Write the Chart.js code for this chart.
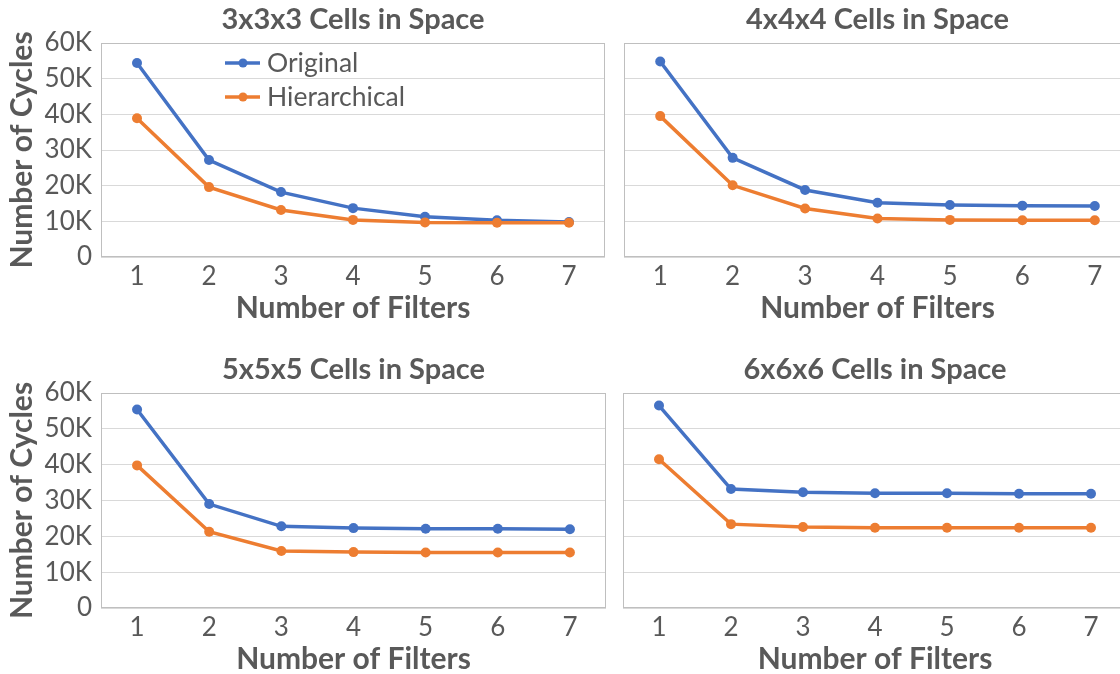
<!DOCTYPE html>
<html>
<head>
<meta charset="utf-8">
<script src="https://cdn.jsdelivr.net/npm/chart.js@4.4.0/dist/chart.umd.min.js"></script>
<style>
  html, body { margin: 0; padding: 0; background: #fff; overflow: hidden; }
  body { width: 1120px; height: 674px; position: relative; }
  canvas { position: absolute; }
</style>
</head>
<body>
<canvas id="c333" width="615" height="337" style="left:0;top:0"></canvas>
<canvas id="c444" width="527" height="337" style="left:614px;top:0"></canvas>
<canvas id="c555" width="616" height="338" style="left:0;top:350px"></canvas>
<canvas id="c666" width="524" height="338" style="left:613px;top:350px"></canvas>
<script>
const filters = ['1', '2', '3', '4', '5', '6', '7'];
const yTickLabels = ['0', '10K', '20K', '30K', '40K', '50K', '60K'];

// cycles
const original333 = [54400, 27200, 18200, 13700, 11300, 10300, 9800];
const hierarchical333 = [38900, 19600, 13200, 10400, 9700, 9600, 9600];
const original444 = [54800, 27800, 18800, 15200, 14600, 14400, 14300];
const hierarchical444 = [39500, 20100, 13600, 10800, 10400, 10300, 10300];
const original555 = [55400, 29000, 22800, 22300, 22100, 22100, 22000];
const hierarchical555 = [39800, 21300, 15900, 15600, 15500, 15500, 15500];
const original666 = [56500, 33200, 32300, 32000, 32000, 31900, 31900];
const hierarchical666 = [41500, 23400, 22600, 22400, 22400, 22400, 22400];

const BLUE = '#4472C4';
const ORANGE = '#ED7D31';
const TEXT = '#595959';

Chart.defaults.font.family = 'Lato';
Chart.defaults.color = TEXT;

// grey box round the plot area
const plotFrame = {
  id: 'plotFrame',
  beforeDatasetsDraw(chart) {
    const { ctx, chartArea: a } = chart;
    ctx.save();
    ctx.strokeStyle = '#bfbfbf';
    ctx.lineWidth = 1;
    ctx.strokeRect(a.left + 0.5, a.top + 0.5, a.right - a.left - 1, a.bottom - a.top - 1);
    ctx.restore();
  }
};

// legend drawn inside the plot, like the original
const insideLegend = {
  id: 'insideLegend',
  afterDatasetsDraw(chart, args, opts) {
    if (!opts.display) return;
    const { ctx, chartArea } = chart;
    const x = chartArea.left + opts.left;
    ctx.save();
    ctx.font = '26.5px Lato';
    ctx.textBaseline = 'middle';
    const items = chart.data.datasets.slice().sort((a, b) => a.legendIndex - b.legendIndex);
    items.forEach((ds, i) => {
      const y = chartArea.top + opts.top + i * opts.rowGap;
      ctx.strokeStyle = ds.borderColor;
      ctx.lineWidth = 3.5;
      ctx.beginPath();
      ctx.moveTo(x, y);
      ctx.lineTo(x + 35, y);
      ctx.stroke();
      ctx.fillStyle = ds.borderColor;
      ctx.beginPath();
      ctx.arc(x + 18, y, 4.5, 0, Math.PI * 2);
      ctx.fill();
      ctx.fillStyle = TEXT;
      ctx.fillText(ds.label, x + 42, y);
    });
    ctx.restore();
  }
};

function series(label, data, color, order, legendIndex) {
  return {
    label: label,
    data: data,
    borderColor: color,
    backgroundColor: color,
    borderWidth: 3.5,
    pointRadius: 5,
    pointBorderWidth: 0,
    pointBackgroundColor: color,
    tension: 0,
    order: order,
    legendIndex: legendIndex
  };
}

function makePanel(id, title, original, hierarchical, showY, withLegend) {
  const ctx = document.getElementById(id).getContext('2d');
  return new Chart(ctx, {
    type: 'line',
    data: {
      labels: filters,
      datasets: [
        series('Original', original, BLUE, 1, 0),
        series('Hierarchical', hierarchical, ORANGE, 0, 1)
      ]
    },
    plugins: [plotFrame, insideLegend],
    options: {
      responsive: false,
      animation: false,
      events: [],
      layout: { padding: { left: 0, right: 10, top: 0, bottom: 0 } },
      plugins: {
        legend: { display: false },
        tooltip: { enabled: false },
        title: {
          display: true,
          text: title,
          fullSize: false,
          color: TEXT,
          font: { size: 29, weight: 'bold' },
          padding: { top: 2.6, bottom: 5.6 }
        },
        insideLegend: { display: withLegend, left: 124, top: 20, rowGap: 34 }
      },
      scales: {
        x: {
          offset: true,
          grid: { display: false, drawTicks: false },
          border: { display: false },
          ticks: { padding: 4.4, font: { size: 26 }, color: TEXT },
          title: {
            display: true,
            text: 'Number of Filters',
            color: TEXT,
            font: { size: 30, weight: 'bold' },
            padding: { top: 0, bottom: 11 }
          },
          afterFit: s => { s.height = 80; }
        },
        y: {
          min: 0,
          max: 60000,
          ticks: {
            display: showY,
            stepSize: 10000,
            padding: 9,
            font: { size: 26 },
            color: TEXT,
            callback: (value, index) => yTickLabels[index]
          },
          grid: { color: '#d9d9d9', lineWidth: 1, drawTicks: false },
          border: { display: false },
          title: {
            display: showY,
            text: 'Number of Cycles',
            color: TEXT,
            font: { size: 30, weight: 'bold' },
            padding: { top: 4, bottom: 0 }
          },
          afterFit: s => { s.width = showY ? 101 : 10; }
        }
      }
    }
  });
}

makePanel('c333', '3x3x3 Cells in Space', original333, hierarchical333, true, true);
makePanel('c444', '4x4x4 Cells in Space', original444, hierarchical444, false, false);
makePanel('c555', '5x5x5 Cells in Space', original555, hierarchical555, true, false);
makePanel('c666', '6x6x6 Cells in Space', original666, hierarchical666, false, false);
</script>
</body>
</html>
